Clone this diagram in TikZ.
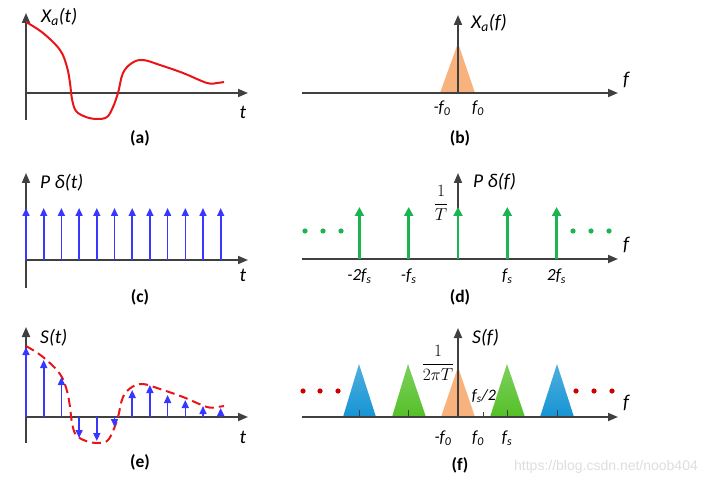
\documentclass[tikz,border=0pt]{standalone}
\usepackage{fontspec}
\setmainfont{Carlito}
\newfontfamily\wmfont{Liberation Sans}
\usetikzlibrary{arrows.meta}
\usetikzlibrary{math}
\definecolor{axgray}{RGB}{64,64,64}
\definecolor{myred}{RGB}{232,20,24}
\definecolor{myblue}{RGB}{55,55,255}
\definecolor{mygreen}{RGB}{28,180,80}
\definecolor{myorange}{RGB}{248,178,126}
\definecolor{tblue}{RGB}{22,148,212}
\definecolor{tgreen}{RGB}{84,192,40}
\definecolor{dotred}{RGB}{204,0,0}

\tikzset{
  axisline/.style={line width=1.8pt, color=axgray, -{Triangle[length=10pt,width=8pt]}},
  bluestem/.style={line width=1.6pt, color=myblue, -{Triangle[length=8pt,width=7pt]}},
  greenstem/.style={line width=2.6pt, color=mygreen, -{Triangle[length=9pt,width=9pt]}},
  lbl/.style={font=\fontsize{19.5}{21}\selectfont\itshape, inner sep=0pt},
  ticklbl/.style={font=\fontsize{17}{19}\selectfont\itshape, inner sep=0pt},
  caption/.style={font=\fontsize{17.5}{19}\selectfont\bfseries, inner sep=0pt},
  fraclbl/.style={font=\fontsize{16}{18}\selectfont, inner sep=0pt},
  basetick/.style={line width=1pt, color=axgray},
}
% the analog signal, relative to the origin of its panel
\newcommand\sigcurve{plot[smooth, tension=0.6] coordinates {(0,-71) (17,-60) (34,-43) (41,-26) (44,-10) (46,6) (50,18) (60,24) (71,26) (81,24) (87,14) (92,0) (97,-20) (106,-30) (117,-33) (134,-28) (157,-20) (181,-10) (191,-10) (198,-11)}}

\begin{document}
\begin{tikzpicture}[x=1pt,y=-1pt]
\tikzmath{
\dt=17.7;
\df=49.3;
}
\useasboundingbox (0,0) rectangle (719,486);

%%%%%%%%%%  (a) analog signal
\begin{scope}[shift={(26,93)}]
\draw[axisline] (0,27) -- (0,-80);
\draw[axisline] (0,0) -- (222,0);
\draw[line width=2pt, color=myred] \sigcurve;
\node[lbl, anchor=west] (xat) at (15,-76) {X\textsubscript{a}(t)};
\node[lbl] (ta) at (217,19) {t};
\node[caption] (capa) at (114,45) {(a)};
\end{scope}

%%%%%%%%%%  (b) its spectrum
\begin{scope}[shift={(458,93)}]
\fill[myorange] (-18,0) -- (0,-50) -- (17,0) -- cycle;
\draw[axisline] (-156,0) -- (160,0);
\draw[axisline] (0,0) -- (0,-78);
\node[lbl, anchor=west] (xaf) at (13,-70) {X\textsubscript{a}(f)};
\node[lbl] (fb) at (168,-13) {f};
\node[ticklbl] (mf0b) at (-16,15) {-f\textsubscript{0}};
\node[ticklbl] (f0b) at (20,15) {f\textsubscript{0}};
\node[caption] (capb) at (2,45) {(b)};
\end{scope}

%%%%%%%%%%  (c) impulse train
\begin{scope}[shift={(26,260)}]
\draw[axisline] (0,28) -- (0,-87);
\draw[axisline] (0,0) -- (222,0);
\foreach \i in {0,...,11}
  \draw[bluestem] (\i*\dt,0) -- (\i*\dt,-52);
\node[lbl, anchor=west] (pdt) at (14,-77) {P δ(t)};
\node[lbl] (tc) at (217,15) {t};
\node[caption] (capc) at (114,37) {(c)};
\end{scope}

%%%%%%%%%%  (d) spectrum of the impulse train
\begin{scope}[shift={(458,259)}]
\draw[axisline] (-156,0) -- (160,0);
\draw[axisline] (0,0) -- (0,-86);
\foreach \k in {-2,...,2}
  \draw[greenstem] (\k*\df,0) -- (\k*\df,-52);
\foreach \x in {-153,-135,-117,115,133,151}
  \fill[mygreen] (\x,-28) circle (2.6pt);
\node[fraclbl] (invt) at (-17,-56) {$\displaystyle\frac{1}{T}$};
\node[lbl, anchor=west] (pdf) at (15,-77) {P δ(f)};
\node[lbl] (fd) at (168,-14) {f};
\node[ticklbl] (m2fs) at (-2*\df,17) {-2f\textsubscript{s}};
\node[ticklbl] (mfs) at (-\df,17) {-f\textsubscript{s}};
\node[ticklbl] (fs) at (\df,17) {f\textsubscript{s}};
\node[ticklbl] (p2fs) at (2*\df,17) {2f\textsubscript{s}};
\node[caption] (capd) at (2,38) {(d)};
\end{scope}

%%%%%%%%%%  (e) sampled signal
\begin{scope}[shift={(26,417)}]
\draw[axisline] (0,26) -- (0,-90);
\draw[axisline] (0,0) -- (222,0);
\draw[line width=2pt, color=myred, dash pattern=on 9pt off 5pt] \sigcurve;
\foreach \i/\h in {0/-70,1/-57,2/-40,3/21,4/24,5/10,6/-27,7/-32,8/-22,9/-17,10/-11,11/-9}
  \draw[bluestem] (\i*\dt,0) -- (\i*\dt,\h);
\node[lbl, anchor=west] (st) at (14,-79) {S(t)};
\node[lbl] (te) at (217,20) {t};
\node[caption] (cape) at (114,45) {(e)};
\end{scope}

%%%%%%%%%%  (f) spectrum of the sampled signal
\begin{scope}[shift={(458,417)}]
\shade[top color=tblue!75!white, bottom color=tblue] (-115,0) -- (-99,-53) -- (-82,0) -- cycle;
\shade[top color=tgreen!75!white, bottom color=tgreen] (-66,0) -- (-50,-53) -- (-32,0) -- cycle;
\fill[myorange] (-17,0) -- (0,-50) -- (17,0) -- cycle;
\shade[top color=tgreen!75!white, bottom color=tgreen] (32,0) -- (49,-53) -- (67,0) -- cycle;
\shade[top color=tblue!75!white, bottom color=tblue] (82,0) -- (99,-53) -- (116,0) -- cycle;
\foreach \x in {-99,-50,49,99}
  \draw[basetick] (\x,0) -- (\x,-7);
\draw[basetick] (25,0) -- (25,-5);
\draw[axisline] (-156,0) -- (160,0);
\draw[axisline] (0,0) -- (0,-89);
\foreach \x in {-155,-138,-120,118,136,154}
  \fill[dotred] (\x,-26) circle (2.6pt);
\node[fraclbl] (inv2pt) at (-20,-54) {$\displaystyle\frac{1}{2\pi T}$};
\node[ticklbl, font=\fontsize{16}{18}\selectfont\itshape] (fs2) at (26,-21) {f\textsubscript{s}/2};
\node[lbl, anchor=west] (sf) at (14,-79) {S(f)};
\node[lbl] (ff) at (168,-14) {f};
\node[ticklbl] (mf0f) at (-15,21) {-f\textsubscript{0}};
\node[ticklbl] (f0f) at (20,21) {f\textsubscript{0}};
\node[ticklbl] (fsf) at (49,21) {f\textsubscript{s}};
\node[caption] (capf) at (2,48) {(f)};
\end{scope}

\node[font=\wmfont\fontsize{14}{16}\selectfont, text=black!13] (wm) at (606,467) {https://blog.csdn.net/noob404};
\end{tikzpicture}
\end{document}
